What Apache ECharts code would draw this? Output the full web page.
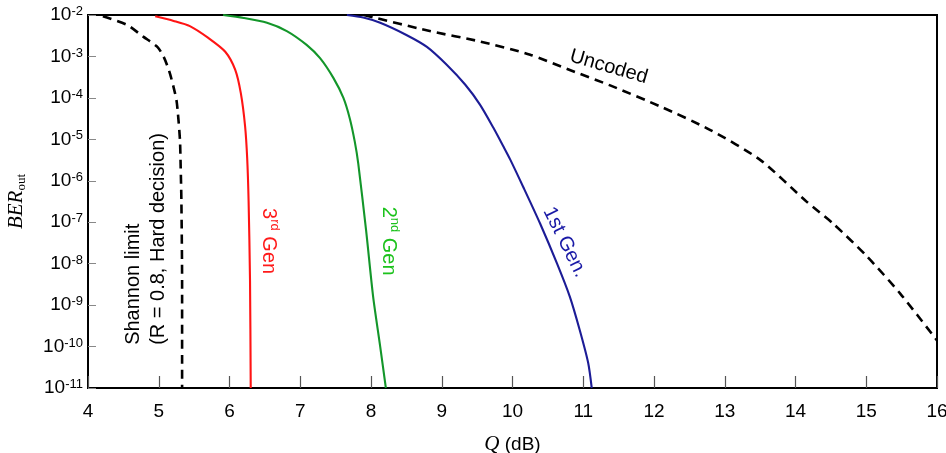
<!DOCTYPE html>
<html><head><meta charset="utf-8">
<script src="https://cdn.jsdelivr.net/npm/echarts@6/dist/echarts.min.js"></script>
<style>html,body{margin:0;padding:0;background:#fff}#c{width:946px;height:453px}</style>
</head><body><div id="c"></div>
<script>
// ---- data (Q in dB, BER values) ----
const qTickValues = [4,5,6,7,8,9,10,11,12,13,14,15,16];
const berTickExponents = [-11,-10,-9,-8,-7,-6,-5,-4,-3,-2];

const shannonQ   = [4.21, 4.55, 4.78, 4.98, 5.07, 5.15, 5.21, 5.25, 5.27, 5.30, 5.31, 5.32, 5.33, 5.33];
const shannonBER = [9.3e-3, 5.8e-3, 3.0e-3, 1.7e-3, 9.8e-4, 4.3e-4, 1.8e-4, 8.9e-5, 4.4e-5, 9.5e-6, 2.1e-6, 3.4e-7, 3.2e-9, 1e-11];

const gen3Q   = [4.95, 5.21, 5.44, 5.70, 5.94, 6.08, 6.16, 6.22, 6.25, 6.27, 6.29, 6.30];
const gen3BER = [9.3e-3, 7.2e-3, 5.4e-3, 2.8e-3, 1.3e-3, 4.8e-4, 1.3e-4, 2.1e-5, 3.5e-6, 3.2e-7, 4.0e-9, 1e-11];

const gen2Q   = [5.91, 6.20, 6.53, 6.81, 7.09, 7.28, 7.47, 7.61, 7.70, 7.77, 7.82, 7.93, 8.03, 8.13, 8.21];
const gen2BER = [1.0e-2, 8.5e-3, 6.5e-3, 4.1e-3, 1.9e-3, 9.1e-4, 3.0e-4, 1.0e-4, 3.2e-5, 8.9e-6, 2.6e-6, 6.5e-8, 1.6e-9, 1.0e-10, 1e-11];

const gen1Q   = [7.66, 7.89, 8.13, 8.50, 8.79, 9.07, 9.33, 9.54, 9.73, 9.87, 9.97, 10.15, 10.39, 10.63, 10.81, 10.95, 11.07, 11.12];
const gen1BER = [1.0e-2, 8.7e-3, 6.5e-3, 3.3e-3, 1.7e-3, 6.3e-4, 2.1e-4, 6.9e-5, 1.9e-5, 6.8e-6, 3.2e-6, 7.2e-7, 9.3e-8, 1.0e-8, 1.6e-9, 2.5e-10, 4.0e-11, 1e-11];

const uncodedQ   = [7.90, 8.83, 9.54, 10.25, 10.81, 11.38, 12.09, 12.79, 13.50, 14.16, 14.53, 15.01, 15.48, 16.0];
const uncodedBER = [1.0e-2, 4.1e-3, 2.3e-3, 1.1e-3, 4.7e-4, 2.0e-4, 6.2e-5, 1.7e-5, 3.2e-6, 3.1e-7, 9.3e-8, 1.5e-8, 1.9e-9, 1.4e-10];

// ---- chart ----
const FONT = "'Liberation Sans', Arial, Helvetica, sans-serif";
const SERIF = "'Liberation Serif', 'Times New Roman', serif";
function pairs(xs, ys) { return xs.map((x, i) => [x, ys[i]]); }

const chart = echarts.init(document.getElementById('c'), null, {renderer: 'canvas'});

function lineSeries(name, xs, ys, color, dashed) {
  return {
    name: name, type: 'line', data: pairs(xs, ys), showSymbol: false, symbol: 'none',
    smooth: 0.25, clip: true,
    lineStyle: {color: color, width: dashed ? 2.6 : 2.1, type: dashed ? [9, 6] : 'solid', join: 'round', cap: 'butt'},
    z: 3
  };
}

const option = {
  animation: false,
  backgroundColor: '#fff',
  grid: {left: 88, right: 9, top: 15, bottom: 65, show: true, borderColor: '#000', borderWidth: 2,
         backgroundColor: 'transparent', containLabel: false, outerBoundsMode: 'none'},
  xAxis: {
    type: 'value', min: qTickValues[0], max: qTickValues[qTickValues.length - 1], interval: 1,
    axisLine: {lineStyle: {color: '#000', width: 2}},
    axisTick: {inside: true, length: 12, lineStyle: {color: '#555', width: 1.2}},
    splitLine: {show: false},
    axisLabel: {margin: 14, fontSize: 19, color: '#000', fontFamily: FONT},
    name: '{i|Q} (dB)', nameLocation: 'middle', nameGap: 46,
    nameTextStyle: {fontSize: 19, color: '#000', fontFamily: FONT,
      rich: {i: {fontSize: 21, fontStyle: 'italic', fontFamily: SERIF, color: '#000'}}}
  },
  yAxis: {
    type: 'log', logBase: 10, min: Math.pow(10, berTickExponents[0]), max: Math.pow(10, berTickExponents[berTickExponents.length - 1]),
    splitNumber: berTickExponents.length - 1,
    axisLine: {lineStyle: {color: '#000', width: 2}},
    axisTick: {inside: true, length: 8, lineStyle: {color: '#888', width: 1}},
    splitLine: {show: false}, minorTick: {show: false},
    axisLabel: {
      margin: 5, color: '#000', fontFamily: FONT,
      formatter: function (v) { return '{b|10}{s|' + Math.round(Math.log10(v)) + '}'; },
      rich: {
        b: {fontSize: 19, lineHeight: 20, fontFamily: FONT, color: '#000'},
        s: {fontSize: 13, lineHeight: 13, verticalAlign: 'top', fontFamily: FONT, color: '#000'}
      }
    },
    name: '{i|BER}{s|out}', nameLocation: 'middle', nameGap: 60, nameRotate: 90,
    nameTextStyle: {color: '#000', rich: {
      i: {fontSize: 21, fontStyle: 'italic', fontFamily: SERIF, color: '#000', lineHeight: 24},
      s: {fontSize: 13, fontFamily: SERIF, color: '#000', lineHeight: 13, verticalAlign: 'bottom'}
    }}
  },
  series: [
    lineSeries('Uncoded', uncodedQ, uncodedBER, '#000', true),
    lineSeries('Shannon limit', shannonQ, shannonBER, '#000', true),
    lineSeries('1st Gen.', gen1Q, gen1BER, '#1c1c96', false),
    lineSeries('2nd Gen', gen2Q, gen2BER, '#13962a', false),
    lineSeries('3rd Gen', gen3Q, gen3BER, '#ff1414', false)
  ]
};
chart.setOption(option);

// annotation labels, anchored in data coordinates
const notes = [
  {q: 11.36, ber: 5.6e-4, rot: -0.28, text: 'Uncoded', color: '#000', align: 'center'},
  {q: 10.74, ber: 3.3e-8, rot: -1.11, text: '1st Gen.', color: '#1a1aa6', align: 'center'},
  {q: 8.25, ber: 3.5e-8, rot: -Math.PI / 2, text: '2{sup|nd} Gen', color: '#1cc21c', align: 'center'},
  {q: 6.55, ber: 3.5e-8, rot: -Math.PI / 2, text: '3{sup|rd} Gen', color: '#ff1a1a', align: 'center'},
  {q: 4.82, ber: 1.1e-10, rot: Math.PI / 2, text: 'Shannon limit\n(R = 0.8, Hard decision)', color: '#000', align: 'left'}
];
const graphics = notes.map(n => {
  const p = chart.convertToPixel({xAxisIndex: 0, yAxisIndex: 0}, [n.q, n.ber]);
  return {
    type: 'text', x: p[0], y: p[1], rotation: n.rot, z: 10,
    style: {
      text: n.text, fill: n.color, fontSize: 20, fontFamily: FONT, lineHeight: 25,
      align: n.align, textAlign: n.align, verticalAlign: 'middle', textVerticalAlign: 'middle',
      rich: {sup: {fontSize: 13, lineHeight: 13, verticalAlign: 'top', fill: n.color, fontFamily: FONT}}
    }
  };
});
chart.setOption({graphic: graphics});
</script>
</body></html>
